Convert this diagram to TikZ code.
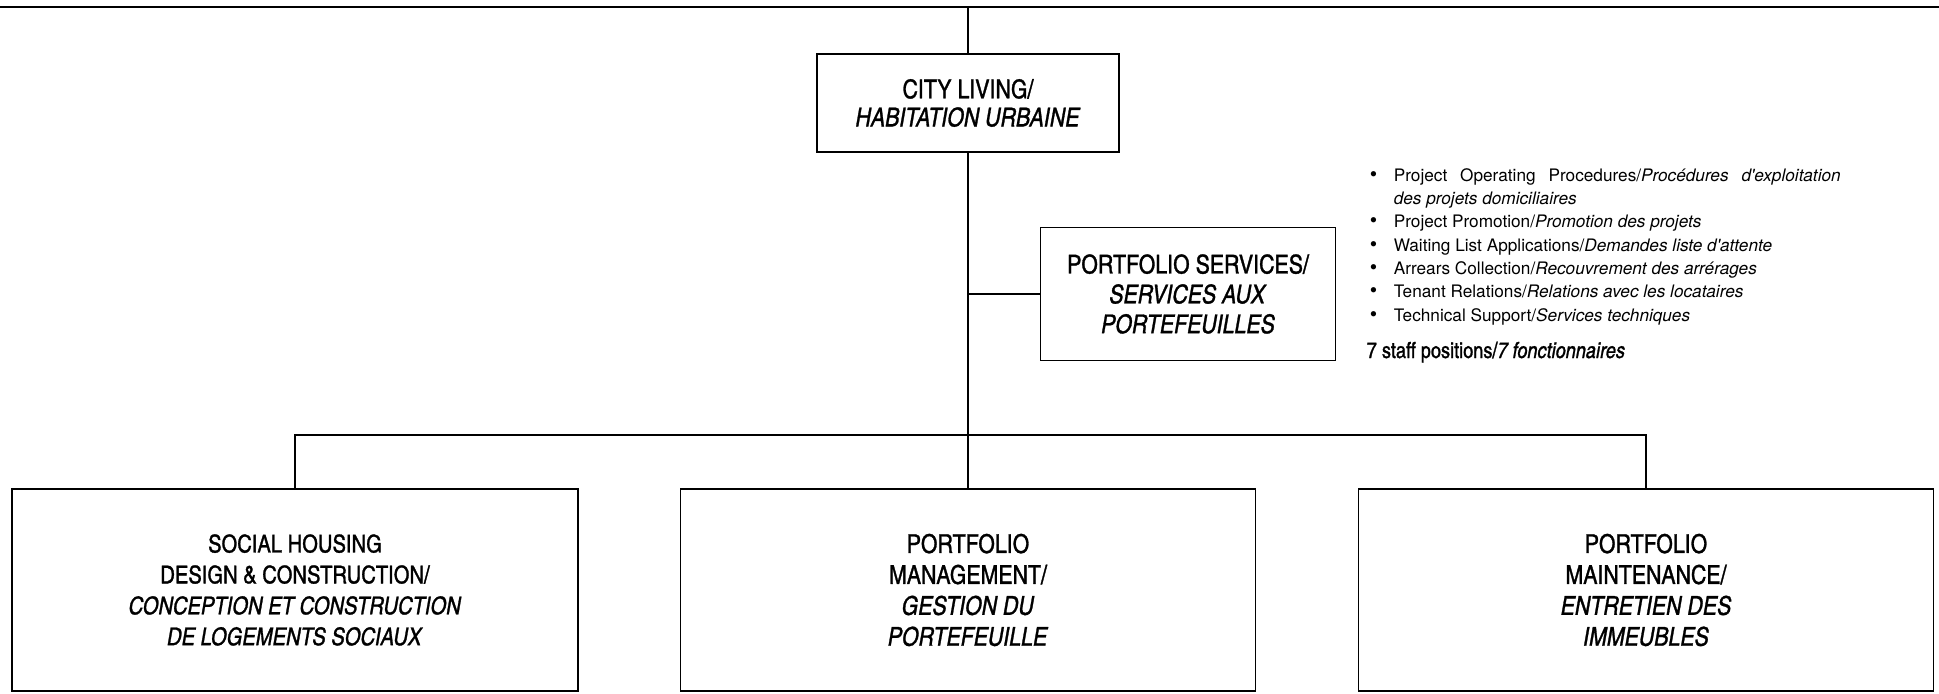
\documentclass[tikz,border=0pt]{standalone}
\usepackage{fontspec}
\usepackage{tikz}
\newfontfamily\boxfont{TeX Gyre Heros Cn}[
    BoldFont={TeX Gyre Heros Cn}, BoldFeatures={FakeBold=1.1},
    BoldItalicFont={TeX Gyre Heros Cn Italic}, BoldItalicFeatures={FakeBold=1.1}]
\newfontfamily\notefont{TeX Gyre Heros}
\usetikzlibrary{positioning}

\begin{document}
\begin{tikzpicture}[
    x=0.02cm, y=-0.02cm, line width=0.9pt,
    unitbox/.style={rectangle, draw, align=center, inner sep=0pt, font=\boxfont\bfseries\fontsize{14.8}{16}\selectfont},
    deptbox/.style={unitbox, minimum width=11.5cm, minimum height=4.04cm, font=\boxfont\bfseries\fontsize{14.8}{17.6}\selectfont},
    notes/.style={inner sep=0pt, font=\notefont\fontsize{9.8}{13.3}\selectfont},
    staffnote/.style={inner sep=0pt, font=\boxfont\bfseries\fontsize{12.6}{14}\selectfont}
]
    \useasboundingbox (0,0) rectangle (1939,693);
    \coordinate (topL) at (0,7);
    \coordinate (topR) at (1939,7);
    \coordinate (bus) at (968,435);

    \node[unitbox, minimum width=6.04cm, minimum height=1.96cm] (city) at (968,103) {
        CITY LIVING/\\
        \textit{HABITATION URBAINE}
    };

    \node[unitbox, minimum width=5.9cm, minimum height=2.66cm, font=\boxfont\bfseries\fontsize{14.8}{17}\selectfont] (ps) at (1188,294) {
        PORTFOLIO SERVICES/\\
        \textit{SERVICES AUX}\\
        \textit{PORTEFEUILLES}
    };

    \node[notes, anchor=base west] (tasks) at (1369,181) {%
        \begin{tabular}[t]{@{}p{0.48cm}@{}l@{}}
            {\fontsize{12}{12}\selectfont\textbullet} & \makebox[8.94cm][s]{Project Operating Procedures/\textit{Procédures d'exploitation}}\\
             & \textit{des projets domiciliaires}\\
            {\fontsize{12}{12}\selectfont\textbullet} & Project Promotion/\textit{Promotion des projets}\\
            {\fontsize{12}{12}\selectfont\textbullet} & Waiting List Applications/\textit{Demandes liste d'attente}\\
            {\fontsize{12}{12}\selectfont\textbullet} & Arrears Collection/\textit{Recouvrement des arrérages}\\
            {\fontsize{12}{12}\selectfont\textbullet} & Tenant Relations/\textit{Relations avec les locataires}\\
            {\fontsize{12}{12}\selectfont\textbullet} & Technical Support/\textit{Services techniques}
        \end{tabular}};

    \node[staffnote, anchor=base west] (staff) at (1366,358) {7 staff positions/\textit{7 fonctionnaires}};

    \node[deptbox, minimum width=11.32cm, font=\boxfont\bfseries\fontsize{14}{17.6}\selectfont] (soc) at (295,590) {
        SOCIAL HOUSING\\
        DESIGN \& CONSTRUCTION/\\
        \textit{CONCEPTION ET CONSTRUCTION}\\
        \textit{DE LOGEMENTS SOCIAUX}
    };

    \node[deptbox] (mgmt) at (968,590) {
        PORTFOLIO\\
        MANAGEMENT/\\
        \textit{GESTION DU}\\
        \textit{PORTEFEUILLE}
    };

    \node[deptbox] (maint) at (1646,590) {
        PORTFOLIO\\
        MAINTENANCE/\\
        \textit{ENTRETIEN DES}\\
        \textit{IMMEUBLES}
    };

    \draw (topL) -- (topR);
    \draw (city.north) -- (city.north |- topL);
    \draw (city.south) -- (mgmt.north);
    \draw (ps.west) -- (ps.west -| city.south);
    \draw (soc.north) |- (bus) -| (maint.north);
\end{tikzpicture}
\end{document}
